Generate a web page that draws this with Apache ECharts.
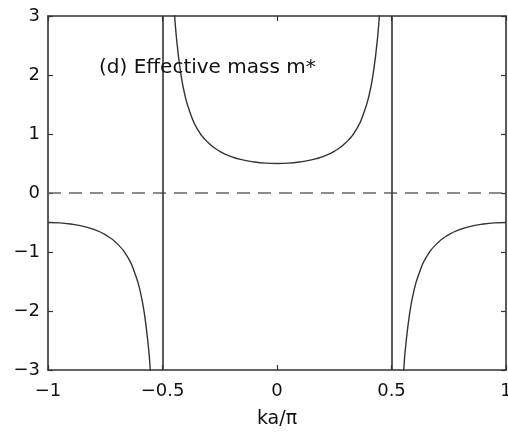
<!DOCTYPE html>
<html>
<head>
<meta charset="utf-8">
<script src="https://cdn.jsdelivr.net/npm/echarts@6/dist/echarts.min.js"></script>
<style>html,body{margin:0;padding:0;background:#fff}#c{width:508px;height:432px}</style>
</head>
<body>
<div id="c"></div>
<script>
// Values: m* versus ka/pi
var leftX   = [-1, -0.95, -0.9, -0.85, -0.8, -0.75, -0.7, -0.65, -0.62, -0.6, -0.58, -0.56, -0.554, -0.55];
var leftY   = [-0.5, -0.506, -0.526, -0.561, -0.618, -0.707, -0.851, -1.10, -1.37, -1.62, -2.02, -2.67, -2.97, -3.2];
var midX    = [-0.45, -0.44, -0.42, -0.4, -0.38, -0.35, -0.3, -0.25, -0.2, -0.15, -0.1, -0.05, 0, 0.05, 0.1, 0.15, 0.2, 0.25, 0.3, 0.35, 0.38, 0.4, 0.42, 0.44, 0.45];
var midY    = [3.2, 2.67, 2.02, 1.62, 1.37, 1.10, 0.851, 0.707, 0.618, 0.561, 0.526, 0.506, 0.5, 0.506, 0.526, 0.561, 0.618, 0.707, 0.851, 1.10, 1.37, 1.62, 2.02, 2.67, 3.2];
var rightX  = [0.55, 0.554, 0.56, 0.58, 0.6, 0.62, 0.65, 0.7, 0.75, 0.8, 0.85, 0.9, 0.95, 1];
var rightY  = [-3.2, -2.97, -2.67, -2.02, -1.62, -1.37, -1.10, -0.851, -0.707, -0.618, -0.561, -0.526, -0.506, -0.5];
var asymptotes = [-0.5, 0.5];
var zeroLine = 0;
var xTicks = [-1, -0.5, 0, 0.5, 1];
var yTicks = [-3, -2, -1, 0, 1, 2, 3];
var titleText = '(d) Effective mass m*';
var xName = 'ka/\u03c0';

function pairs(xs, ys){ return xs.map(function(x,i){ return [x, ys[i]]; }); }
function fmt(v){ return String(v).replace('-', '\u2212'); }

var FONT = 'DejaVu Sans';
var LC = '#333';
var TC = '#111';
var lineStyle = {color: LC, width: 1.4};

var chart = echarts.init(document.getElementById('c'), null, {renderer: 'canvas'});
function axisCommon(){
  return {
    type: 'value',
    axisLine: {show: true, onZero: false, lineStyle: {color: LC, width: 1.6}},
    axisTick: {show: true, inside: true, length: 5, lineStyle: {color: LC, width: 1.2}},
    splitLine: {show: false}
  };
}
chart.setOption({
  animation: false,
  backgroundColor: '#fff',
  title: {
    text: titleText, left: 94, top: 53,
    textStyle: {fontFamily: FONT, fontSize: 20, fontWeight: 'normal', color: TC}
  },
  grid: {left: 48, right: 2, top: 16, bottom: 62, containLabel: false, outerBoundsMode: 'none'},
  xAxis: [
    Object.assign(axisCommon(), {
      min: xTicks[0], max: xTicks[xTicks.length-1], interval: 0.5, position: 'bottom',
      name: xName, nameLocation: 'middle', nameGap: 40,
      nameTextStyle: {fontFamily: FONT, fontSize: 19, color: TC},
      axisLabel: {fontFamily: FONT, fontSize: 18, color: TC, margin: 12, formatter: fmt}
    }),
    Object.assign(axisCommon(), {
      min: xTicks[0], max: xTicks[xTicks.length-1], interval: 0.5, position: 'top',
      axisLabel: {show: false}
    })
  ],
  yAxis: [
    Object.assign(axisCommon(), {
      min: yTicks[0], max: yTicks[yTicks.length-1], interval: 1, position: 'left',
      axisLabel: {fontFamily: FONT, fontSize: 18, color: TC, margin: 8, formatter: fmt}
    }),
    Object.assign(axisCommon(), {
      min: yTicks[0], max: yTicks[yTicks.length-1], interval: 1, position: 'right',
      axisLabel: {show: false}
    })
  ],
  series: [
    {type: 'line', data: pairs(leftX, leftY), showSymbol: false, smooth: true, lineStyle: lineStyle, clip: true,
     markLine: {silent: true, symbol: 'none', label: {show: false},
       lineStyle: {color: '#666', width: 1.6, type: [13, 8]},
       data: [{yAxis: zeroLine}]}},
    {type: 'line', data: pairs(midX, midY), showSymbol: false, smooth: true, lineStyle: lineStyle, clip: true,
     markLine: {silent: true, symbol: 'none', label: {show: false},
       lineStyle: {color: LC, width: 1.6, type: 'solid'},
       data: asymptotes.map(function(a){ return {xAxis: a}; })}},
    {type: 'line', data: pairs(rightX, rightY), showSymbol: false, smooth: true, lineStyle: lineStyle, clip: true}
  ]
});
</script>
</body>
</html>
